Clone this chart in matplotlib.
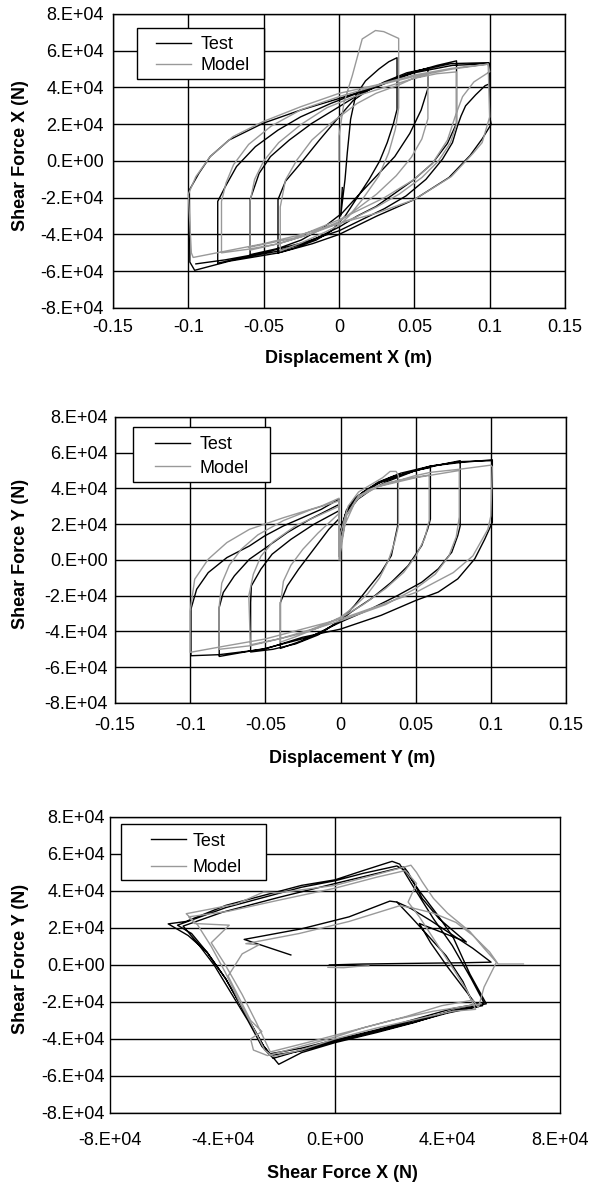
import numpy as np
import matplotlib
matplotlib.use('Agg')
import matplotlib.pyplot as plt
from matplotlib.patches import Rectangle

plt.rcParams['font.family'] = ['Liberation Sans', 'DejaVu Sans']
plt.rcParams['font.size'] = 13

# panel 1: displacement X (m) vs shear force X (1e4 N)
test_x = [
    (0.0022, -1.45), (0.0011, -3.0), (0.004, -1.0), (0.0055, 0.45), (0.0077, 2.27), (0.011, 3.55),
    (0.0176, 4.36), (0.0264, 5.0), (0.033, 5.4), (0.0385, 5.62), (0.0385, 2.8), (0.036, 2.0),
    (0.032, 1.0), (0.027, 0.0), (0.02, -1.0), (0.012, -2.0), (0.004, -3.0), (-0.005, -3.8),
    (-0.015, -4.3), (-0.03, -4.75), (-0.0405, -5.0), (-0.0405, -2.1), (-0.0355, -1.1),
    (-0.0255, -0.13), (-0.013, 1.14), (0.0, 2.4), (0.0095, 3.3), (0.0195, 3.86), (0.03, 4.3),
    (0.045, 4.8), (0.059, 5.04), (0.059, 3.95), (0.0545, 2.77), (0.047, 1.5), (0.037, 0.24),
    (0.0245, -0.85), (0.012, -1.94), (0.002, -2.84), (-0.01, -3.6), (-0.025, -4.3), (-0.04, -4.75),
    (-0.059, -5.1), (-0.059, -2.1), (-0.053, -0.67), (-0.0455, 0.24), (-0.033, 1.14), (-0.018, 2.05),
    (0.0, 2.95), (0.0145, 3.68), (0.03, 4.2), (0.05, 4.85), (0.065, 5.2), (0.078, 5.45), (0.078, 2.05),
    (0.072, 0.96), (0.062, -0.13), (0.0495, -1.03), (0.037, -1.76), (0.0245, -2.48), (0.012, -3.0),
    (0.0, -3.6), (-0.02, -4.4), (-0.04, -4.9), (-0.06, -5.2), (-0.0805, -5.56), (-0.0805, -2.2),
    (-0.0755, -1.4), (-0.068, -0.3), (-0.0555, 0.78), (-0.0405, 1.68), (-0.0255, 2.4), (-0.0055, 3.13),
    (0.012, 3.68), (0.03, 4.25), (0.05, 4.8), (0.075, 5.2), (0.1, 5.3), (0.1, 2.4), (0.101, 2.0),
    (0.095, 1.2), (0.087, 0.3), (0.073, -0.9), (0.05, -2.1), (0.025, -3.0), (0.0, -4.0),
    (-0.0176, -4.5), (-0.04, -5.0), (-0.0727, -5.45), (-0.0958, -5.95), (-0.099, -5.5),
    (-0.0993, -1.58), (-0.093, -0.67), (-0.0855, 0.24), (-0.073, 1.14), (-0.0505, 2.05),
    (-0.0255, 2.77), (0.0, 3.4), (0.0245, 4.04), (0.0495, 4.86), (0.0745, 5.3), (0.0995, 5.35),
    (0.1, 4.2), (0.097, 4.1), (0.0907, 3.6), (0.084, 3.0), (0.081, 2.45), (0.0786, 1.9), (0.0753, 1.0),
    (0.0687, 0.1), (0.0577, -1.0), (0.0445, -1.9), (0.03, -2.6), (0.015, -3.2), (0.0, -3.8),
    (-0.025, -4.47), (-0.05, -5.0), (-0.0755, -5.38), (-0.095, -5.6),
]
model_x = [
    (0.0, 0.0), (0.0, 1.36), (0.0033, 3.18), (0.0088, 4.64), (0.0154, 6.64), (0.0242, 7.1),
    (0.0297, 7.04), (0.0396, 6.67), (0.0396, 2.9), (0.0374, 1.73), (0.033, 0.45), (0.0264, -0.82),
    (0.0154, -2.1), (0.0066, -3.0), (0.0, -3.5), (-0.01, -3.9), (-0.025, -4.45), (-0.039, -4.9),
    (-0.039, -2.5), (-0.0355, -1.03), (-0.028, 0.05), (-0.018, 1.14), (-0.0055, 2.05), (0.012, 3.13),
    (0.0245, 3.68), (0.0395, 4.13), (0.0495, 4.5), (0.059, 4.7), (0.059, 2.3), (0.055, 1.2),
    (0.048, 0.2), (0.038, -0.8), (0.025, -1.8), (0.012, -2.6), (0.0, -3.3), (-0.02, -4.0),
    (-0.04, -4.5), (-0.059, -4.85), (-0.059, -2.2), (-0.056, -1.0), (-0.05, 0.0), (-0.04, 1.0),
    (-0.025, 2.0), (-0.008, 2.9), (0.01, 3.5), (0.03, 4.0), (0.05, 4.5), (0.065, 4.75), (0.078, 4.85),
    (0.078, 2.0), (0.074, 1.0), (0.066, 0.0), (0.055, -0.9), (0.04, -1.8), (0.025, -2.5), (0.01, -3.1),
    (0.0, -3.4), (-0.02, -4.0), (-0.04, -4.5), (-0.06, -4.8), (-0.078, -5.0), (-0.078, -2.2),
    (-0.075, -1.2), (-0.07, -0.2), (-0.06, 0.9), (-0.045, 1.9), (-0.025, 2.8), (0.0, 3.5),
    (0.025, 4.1), (0.05, 4.6), (0.075, 5.0), (0.099, 5.27), (0.1, 2.4), (0.095, 1.0), (0.089, 0.42),
    (0.0745, -0.85), (0.05, -2.1), (0.0245, -2.85), (0.0, -3.4), (-0.025, -4.0), (-0.05, -4.5),
    (-0.075, -4.9), (-0.0968, -5.25), (-0.098, -5.0), (-0.1, -1.8), (-0.095, -0.85), (-0.0855, 0.24),
    (-0.0705, 1.32), (-0.0505, 2.14), (-0.0255, 2.95), (0.0, 3.68), (0.0245, 4.13), (0.0495, 4.67),
    (0.0745, 5.04), (0.099, 5.27), (0.1, 4.86), (0.0895, 4.3), (0.082, 3.5), (0.077, 2.4),
    (0.072, 1.14), (0.062, -0.13), (0.05, -1.0), (0.03, -2.0), (0.0, -3.2), (-0.03, -4.2), (-0.06, -4.7),
]

# panel 2: displacement Y (m) vs shear force Y (1e4 N)
test_y = [
    (-0.001, 1.0), (0.003, 2.4), (0.008, 3.2), (0.015, 3.8), (0.025, 4.3), (0.033, 4.6), (0.038, 4.75),
    (0.038, 1.9), (0.0338, 0.24), (0.027, -0.69), (0.018, -1.62), (0.0093, -2.55), (0.0, -3.38),
    (-0.012, -4.0), (-0.025, -4.5), (-0.04, -4.95), (-0.04, -2.38), (-0.0354, -1.45), (-0.0279, -0.52),
    (-0.0178, 0.6), (-0.0078, 1.71), (-0.001, 2.3), (-0.001, 1.2), (0.003, 2.5), (0.009, 3.4),
    (0.016, 3.85), (0.027, 4.35), (0.038, 4.7), (0.05, 5.0), (0.0598, 5.17), (0.0598, 2.29),
    (0.058, 1.73), (0.054, 0.8), (0.045, -0.32), (0.0338, -1.25), (0.0204, -2.17), (0.007, -2.92),
    (0.0, -3.38), (-0.015, -4.2), (-0.03, -4.7), (-0.045, -5.0), (-0.0598, -5.15), (-0.0598, -2.38),
    (-0.0593, -1.45), (-0.053, -0.52), (-0.0455, 0.32), (-0.033, 1.15), (-0.0178, 1.99),
    (-0.001, 2.75), (-0.001, 1.0), (0.004, 2.6), (0.0116, 3.4), (0.02, 3.9), (0.03, 4.35), (0.05, 5.0),
    (0.065, 5.3), (0.0796, 5.55), (0.0796, 1.9), (0.078, 1.36), (0.074, 0.43), (0.065, -0.5),
    (0.054, -1.25), (0.038, -1.99), (0.0204, -2.73), (0.0, -3.48), (-0.02, -4.3), (-0.05, -4.95),
    (-0.0807, -5.4), (-0.0807, -2.66), (-0.078, -1.82), (-0.0706, -0.89), (-0.0606, 0.04),
    (-0.048, 0.78), (-0.0354, 1.53), (-0.0204, 2.27), (-0.001, 3.1), (-0.001, 1.2), (0.004, 2.7),
    (0.012, 3.5), (0.025, 4.3), (0.04, 4.75), (0.06, 5.25), (0.08, 5.45), (0.101, 5.6), (0.101, 2.1),
    (0.096, 1.17), (0.0893, 0.06), (0.078, -1.06), (0.065, -1.8), (0.05, -2.27), (0.027, -3.1),
    (0.0, -3.87), (-0.0254, -4.33), (-0.0505, -4.99), (-0.0807, -5.3), (-0.0995, -5.36),
    (-0.0995, -2.75), (-0.0957, -1.64), (-0.088, -0.71), (-0.0756, 0.13), (-0.0606, 0.78),
    (-0.0505, 1.34), (-0.038, 1.9), (-0.0254, 2.36), (-0.0128, 2.83), (-0.001, 3.4), (-0.001, 1.3),
    (0.004, 2.8), (0.012, 3.6), (0.025, 4.35), (0.04, 4.85), (0.06, 5.25), (0.08, 5.5), (0.1, 5.55),
]
model_y = [
    (0.0, 0.0), (0.0, 1.5), (0.005, 3.0), (0.012, 3.8), (0.02, 4.2), (0.028, 4.6), (0.033, 4.95),
    (0.037, 4.95), (0.0385, 4.7), (0.0385, 1.9), (0.036, 1.0), (0.032, 0.0), (0.026, -1.0),
    (0.018, -1.9), (0.008, -2.7), (0.0, -3.2), (-0.015, -3.8), (-0.03, -4.3), (-0.04, -4.6),
    (-0.04, -2.5), (-0.038, -1.2), (-0.033, -0.3), (-0.025, 0.6), (-0.015, 1.5), (-0.001, 2.6),
    (-0.001, 0.0), (0.003, 2.0), (0.01, 3.3), (0.018, 3.9), (0.03, 4.3), (0.045, 4.55), (0.059, 4.75),
    (0.059, 2.2), (0.056, 1.2), (0.05, 0.2), (0.042, -0.7), (0.03, -1.6), (0.015, -2.5), (0.0, -3.25),
    (-0.02, -3.9), (-0.04, -4.4), (-0.06, -4.75), (-0.061, -2.0), (-0.058, -0.8), (-0.053, 0.2),
    (-0.045, 1.0), (-0.03, 1.9), (-0.001, 3.0), (-0.001, 0.5), (0.004, 2.5), (0.012, 3.5),
    (0.025, 4.1), (0.05, 4.6), (0.079, 5.0), (0.079, 2.4), (0.077, 1.3), (0.072, 0.2), (0.063, -0.8),
    (0.05, -1.6), (0.03, -2.5), (0.0, -3.4), (-0.03, -4.2), (-0.06, -4.8), (-0.0807, -5.0),
    (-0.0807, -2.6), (-0.079, -1.3), (-0.074, -0.3), (-0.066, 0.6), (-0.055, 1.4), (-0.038, 2.2),
    (-0.02, 2.8), (-0.001, 3.3), (-0.001, 0.3), (0.004, 2.5), (0.012, 3.6), (0.025, 4.1), (0.049, 4.7),
    (0.06, 4.9), (0.079, 5.07), (0.1, 5.3), (0.101, 5.2), (0.1, 2.46), (0.098, 1.71), (0.088, 0.22),
    (0.075, -0.71), (0.05, -1.82), (0.025, -2.57), (0.0, -3.31), (-0.0254, -3.87), (-0.0505, -4.43),
    (-0.0756, -4.8), (-0.1, -5.17), (-0.1, -2.85), (-0.097, -1.08), (-0.088, 0.04), (-0.0756, 0.97),
    (-0.0606, 1.71), (-0.038, 2.36), (-0.0128, 3.01), (-0.001, 3.45), (-0.001, 0.2),
]

# panel 3: shear force X vs shear force Y (1e4 N)
test_xy_start = [
    (-0.2, 0.0), (1.0, 0.05), (2.5, 0.08), (4.6, 0.12), (5.55, 0.15), (4.9, 0.9), (4.2, 1.6),
    (3.4, 2.4), (2.7, 3.05), (2.2, 3.4), (1.95, 3.45), (0.5, 2.6), (-1.2, 1.95), (-3.23, 1.38),
    (-1.57, 0.54),
]
test_xy = [
    (2.2, 3.4), (2.7, 2.6), (3.3, 1.6), (3.95, 0.5), (4.55, -0.9), (4.85, -1.9), (5.1, -2.25),
    (4.0, -2.6), (2.8, -3.1), (1.5, -3.6), (0.0, -4.15), (-1.2, -4.65), (-2.3, -4.9), (-2.6, -4.4),
    (-3.1, -3.0), (-3.7, -1.5), (-4.3, 0.0), (-4.9, 1.2), (-5.4, 2.1), (-4.0, 2.85), (-2.0, 3.65),
    (0.0, 4.4), (1.5, 4.95), (2.45, 5.3), (2.6, 5.0), (3.1, 3.6), (3.7, 2.5), (4.67, 1.24),
    (3.0, 2.24), (3.4, 1.2), (4.0, -0.1), (4.6, -1.3), (5.0, -2.1), (5.25, -2.2), (4.2, -2.5),
    (2.83, -3.0), (1.49, -3.55), (0.0, -4.1), (-1.19, -4.6), (-2.2, -5.05), (-2.54, -4.38),
    (-3.21, -2.57), (-3.88, -0.76), (-4.55, 0.69), (-5.1, 1.7), (-5.6, 2.15), (-3.88, 3.1),
    (-1.19, 4.2), (0.0, 4.55), (1.0, 4.95), (2.2, 5.35), (2.5, 5.1), (3.0, 4.0), (3.6, 2.8),
    (4.2, 1.5), (4.8, -0.5), (5.38, -2.1), (4.2, -2.45), (2.83, -3.11), (1.49, -3.65), (0.0, -4.2),
    (-1.19, -4.74), (-2.0, -5.37), (-2.54, -4.38), (-3.21, -2.57), (-3.88, -0.76), (-4.55, 0.69),
    (-5.22, 1.59), (-5.93, 2.22), (-5.3, 2.35), (-3.88, 3.22), (-1.19, 4.3), (0.0, 4.6), (1.0, 5.1),
    (2.03, 5.6), (2.3, 5.45), (2.83, 4.12), (3.5, 2.5), (4.17, 1.05), (4.85, -0.76), (5.3, -2.05),
    (4.2, -2.35), (2.8, -2.95), (1.5, -3.5), (0.0, -4.05), (-1.2, -4.5), (-2.3, -4.8),
]
model_xy_start = [
    (-0.25, -0.13), (0.3, -0.15), (0.8, -0.08), (1.2, -0.05),
]
model_xy = [
    (6.7, 0.05), (5.8, 0.05), (5.5, 0.7), (4.9, 1.6), (4.3, 2.3), (3.5, 2.8), (2.7, 3.1), (2.3, 3.2),
    (0.5, 2.35), (-1.27, 1.7), (-3.17, 1.15), (-2.7, 1.09), (-3.3, 0.6), (-3.8, -0.6), (-3.4, -1.8),
    (-3.0, -3.0), (-2.6, -3.6), (-3.0, -4.0), (-2.9, -4.6), (-2.4, -4.9), (-1.2, -4.4), (0.0, -3.9),
    (1.0, -3.4), (2.5, -2.8), (3.8, -2.2), (4.9, -1.9), (5.1, -2.3), (5.3, -1.2), (5.74, 0.15),
    (5.3, 0.9), (4.8, 1.8), (4.0, 2.8), (3.5, 3.6), (3.1, 4.5), (2.9, 5.0), (2.7, 5.39), (1.5, 4.9),
    (0.0, 4.3), (-2.0, 3.9), (-2.54, 3.94), (-3.5, 3.3), (-4.5, 3.0), (-5.29, 2.77), (-4.9, 2.2),
    (-4.4, 1.0), (-3.9, -0.4), (-3.4, -2.0), (-2.9, -3.4), (-2.5, -4.6), (-2.2, -4.95), (-1.2, -4.6),
    (0.0, -4.0), (1.5, -3.4), (3.0, -2.9), (4.2, -2.5), (5.0, -2.4), (4.7, -1.4), (4.2, -0.2),
    (3.6, 1.2), (3.0, 2.6), (2.6, 3.4), (2.9, 4.4), (2.5, 5.1), (1.5, 4.75), (0.0, 4.15), (-2.0, 3.5),
    (-3.8, 2.9), (-5.2, 2.6), (-5.0, 2.24), (-3.76, 2.15), (-4.4, 1.2), (-3.9, 0.0), (-3.3, -1.6),
    (-2.8, -3.1), (-2.3, -4.7), (-1.0, -4.2), (0.5, -3.6), (2.0, -3.0), (3.5, -2.5), (5.2, -2.1),
]

ticks_disp = [-0.15, -0.1, -0.05, 0, 0.05, 0.1, 0.15]
ticks_disp_labels = ['-0.15', '-0.1', '-0.05', '0', '0.05', '0.1', '0.15']
ticks_force = [-8e4, -6e4, -4e4, -2e4, 0, 2e4, 4e4, 6e4, 8e4]
ticks_force_labels = ['-8.E+04', '-6.E+04', '-4.E+04', '-2.E+04', '0.E+00',
                      '2.E+04', '4.E+04', '6.E+04', '8.E+04']
ticks_fx = [-8e4, -4e4, 0, 4e4, 8e4]
ticks_fx_labels = ['-8.E+04', '-4.E+04', '0.E+00', '4.E+04', '8.E+04']

test_color = 'black'
model_color = '#999999'


def xy(points):
    arr = np.array(points)
    return arr[:, 0], arr[:, 1] * 1e4


def style_axes(ax, xlabel, ylabel, xticks, xticklabels, xpad, ypad, xlab_y, xlab_x, ylab_x,
               box, leg_xy, leg_space, leg_textpad):
    ax.set_ylim(-8e4, 8e4)
    ax.set_yticks(ticks_force)
    ax.set_yticklabels(ticks_force_labels)
    ax.set_xticks(xticks)
    ax.set_xticklabels(xticklabels)
    ax.tick_params(length=0, labelsize=13)
    ax.tick_params(axis='x', pad=xpad)
    ax.tick_params(axis='y', pad=ypad)
    for s in ax.spines.values():
        s.set_linewidth(1.0)
        s.set_color('black')
    ax.set_xlabel(xlabel, fontsize=13, fontweight='bold')
    ax.set_ylabel(ylabel, fontsize=13, fontweight='bold')
    ax.xaxis.set_label_coords(xlab_x, xlab_y)
    ax.yaxis.set_label_coords(ylab_x, 0.52)
    # legend box drawn separately so its padding can follow the reference
    ax.add_patch(Rectangle(box[:2], box[2], box[3], transform=ax.transAxes, facecolor='white',
                           edgecolor='black', linewidth=1.0, zorder=5))
    leg = ax.legend(loc='upper left', bbox_to_anchor=leg_xy, frameon=False, borderaxespad=0,
                    borderpad=0, handlelength=1.95, handletextpad=leg_textpad,
                    labelspacing=leg_space, fontsize=13)
    leg.set_zorder(6)


fig = plt.figure(figsize=(5.92, 11.85), dpi=100)

ax1 = fig.add_axes([0.1909, 0.7401, 0.7635, 0.2481])
ax1.grid(True, color='black', linewidth=1.0)
ax1.set_axisbelow(True)
d, f = xy(test_x)
ax1.plot(d, f, color=test_color, linewidth=1.0, label='Test')
d, f = xy(model_x)
ax1.plot(d, f, color=model_color, linewidth=1.0, label='Model')
ax1.set_xlim(-0.15, 0.15)
style_axes(ax1, 'Displacement X (m)', 'Shear Force X (N)', ticks_disp, ticks_disp_labels,
           8, 6.5, -0.143, 0.522, -0.185, (0.052, 0.779, 0.282, 0.173), (0.095, 0.924), 0.23, 0.5)

ax2 = fig.add_axes([0.1943, 0.4068, 0.7618, 0.2414])
ax2.grid(True, color='black', linewidth=1.0)
ax2.set_axisbelow(True)
d, f = xy(test_y)
ax2.plot(d, f, color=test_color, linewidth=1.0, label='Test')
d, f = xy(model_y)
ax2.plot(d, f, color=model_color, linewidth=1.0, label='Model')
ax2.set_xlim(-0.15, 0.15)
style_axes(ax2, 'Displacement Y (m)', 'Shear Force Y (N)', ticks_disp, ticks_disp_labels,
           10, 5, -0.164, 0.526, -0.19, (0.039, 0.773, 0.305, 0.193), (0.089, 0.9335), 0.38, 0.5)

ax3 = fig.add_axes([0.1858, 0.0608, 0.7601, 0.2498])
ax3.grid(True, axis='y', color='black', linewidth=1.0)
ax3.axvline(0, color='black', linewidth=1.0, zorder=0.5)
ax3.set_axisbelow(True)
fx, fy = xy(test_xy_start)
ax3.plot(fx * 1e4, fy, color=test_color, linewidth=1.0, label='Test')
fx, fy = xy(test_xy)
ax3.plot(fx * 1e4, fy, color=test_color, linewidth=1.0)
fx, fy = xy(model_xy_start)
ax3.plot(fx * 1e4, fy, color=model_color, linewidth=1.0, label='Model')
fx, fy = xy(model_xy)
ax3.plot(fx * 1e4, fy, color=model_color, linewidth=1.0)
ax3.set_xlim(-8e4, 8e4)
style_axes(ax3, 'Shear Force X (N)', 'Shear Force Y (N)', ticks_fx, ticks_fx_labels,
           14, 3.6, -0.176, 0.517, -0.179, (0.024, 0.787, 0.323, 0.189), (0.091, 0.9465), 0.53, 0.36)

fig.savefig('out.png', dpi=100)
